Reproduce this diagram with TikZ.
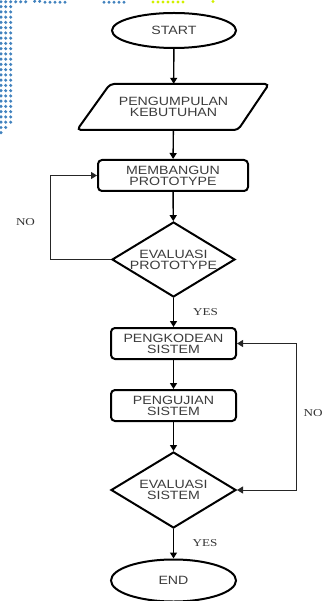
\documentclass[tikz,border=0pt]{standalone}
\usepackage{fontspec}
\setmainfont{Liberation Serif}
\newfontfamily\boxfont[FakeStretch=1.18]{Liberation Sans}
\newfontfamily\labelfont[FakeStretch=1.25]{Liberation Serif}
\usetikzlibrary{shapes.geometric,arrows.meta}
\definecolor{dotblue}{RGB}{65,130,190}
\definecolor{dotlime}{RGB}{210,240,0}
\definecolor{boxtext}{RGB}{60,60,60}

\tikzset{
  txt/.style={font=\boxfont\fontsize{12}{11}\selectfont, text=boxtext, align=center, inner sep=0pt},
  outline/.style={draw=black, line width=2pt},
  term/.style={txt, outline, ellipse},
  proc/.style={txt, outline, rectangle, rounded corners=4pt},
  decide/.style={txt, outline, diamond},
  flow/.style={draw=black, line width=1.4pt, -{Triangle[length=6pt,width=7pt]}},
  back/.style={draw=black!85, line width=1pt, -{Triangle[length=6pt,width=7pt]}},
  lbl/.style={font=\labelfont\fontsize{10.5}{12}\selectfont, text=black!80, inner sep=0pt},
  dotb/.style={fill=dotblue, draw=none},
  dotl/.style={fill=dotlime, draw=none}
}

\begin{document}
\begin{tikzpicture}[x=1pt,y=-1pt]
\useasboundingbox (0,0) rectangle (325,601);
\clip (0,0) rectangle (325,601);

% dotted corner pattern
\foreach \x in {1,5.7,10.7,15.7,20.7,25.7} \fill[dotb] (\x,1.8) circle (1.7pt);
\foreach \x in {34.7,39.7} \fill[dotb] (\x,1.3) circle (1.7pt);
\foreach \x in {45,50,55,60,65,104,109,114,119,124} \fill[dotb] (\x,2.3) circle (1.7pt);
\foreach \k in {0,...,22} {
  \foreach \x in {1,5.7,10.7} \fill[dotb] (\x,{6.7+5.25*\k}) circle (1.7pt);
}
\foreach \x in {1,5.7} \fill[dotb] (\x,127.5) circle (1.7pt);
\fill[dotb] (1,132.7) circle (1.7pt);
\foreach \x in {153,158,163,168,173,178,183} \fill[dotl] (\x,2) circle (1.7pt);
\fill[dotl] (213,1.5) circle (1.7pt);

% flowchart nodes
\node[term, minimum width=124pt, minimum height=35pt] (start) at (174,30.5) {START};
\node[txt, minimum width=150pt, minimum height=46pt] (collect) at (173.5,107) {PENGUMPULAN\\KEBUTUHAN};
\draw[outline, rounded corners=4pt] (190,84) -- (269,84) -- (238,130) -- (77,130) -- (110,84) -- cycle;
\node[proc, minimum width=150pt, minimum height=31pt] (build) at (173,175.5) {MEMBANGUN\\PROTOTYPE};
\node[decide, shape aspect=1.64, minimum width=123pt, minimum height=75pt] (evalp) at (173.5,259.5) {EVALUASI\\PROTOTYPE};
\node[proc, minimum width=125pt, minimum height=31pt] (code) at (173.5,343.5) {PENGKODEAN\\SISTEM};
\node[proc, minimum width=125pt, minimum height=31pt] (test) at (173.5,405.5) {PENGUJIAN\\SISTEM};
\node[decide, shape aspect=1.64, minimum width=125pt, minimum height=76pt] (evals) at (173.5,490) {EVALUASI\\SISTEM};
\node[term, minimum width=125pt, minimum height=42pt] (end) at (173.5,580.5) {END};

% main flow
\draw[flow] (start) -- (collect);
\draw[flow] (collect) -- (build);
\draw[flow] (build) -- (evalp);
\draw[flow] (evalp) -- (code);
\draw[flow] (code) -- (test);
\draw[flow] (test) -- (evals);
\draw[flow] (evals) -- (end);

% feedback loops
\coordinate (lc) at (50,175.5);
\draw[back] (evalp.west) -| (lc) -- (build.west);
\coordinate (rc) at (296,343.5);
\draw[back, {Triangle[length=6pt,width=7pt]}-{Triangle[length=6pt,width=7pt]}] (code.east) -- (rc) |- (evals.east);

% branch labels
\node[lbl] (no1) at (25.5,222) {NO};
\node[lbl] (yes1) at (205.5,312.5) {YES};
\node[lbl] (no2) at (313,413) {NO};
\node[lbl] (yes2) at (205,543) {YES};
\end{tikzpicture}
\end{document}
